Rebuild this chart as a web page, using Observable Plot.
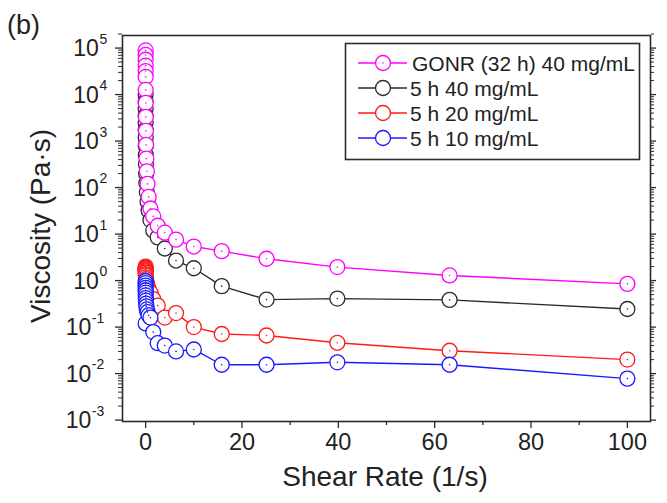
<!DOCTYPE html>
<html>
<head>
<meta charset="utf-8">
<script src="https://cdn.jsdelivr.net/npm/d3@7"></script>
<script src="https://cdn.jsdelivr.net/npm/@observablehq/plot@0.6"></script>
<style>
  body { margin: 0; background: #fff; }
  #figure { position: relative; width: 667px; height: 503px; font-family: Arial, "Liberation Sans", sans-serif; color: #222; }
  #figure svg { position: absolute; left: 0; top: 0; }
  .txt { position: absolute; white-space: nowrap; line-height: 1; }
</style>
</head>
<body>
<div id="figure"></div>
<script>
// Shear rate sweep (1/s)
const shearRate = [0.001, 0.00158, 0.00251, 0.00398, 0.00631, 0.01, 0.0158, 0.0251, 0.0398, 0.0631,
  0.1, 0.158, 0.251, 0.398, 0.631, 1, 1.58, 2.51, 3.98, 6.31, 10, 15.8, 25.1, 39.8, 63.1, 100];

// Viscosity (Pa·s) for each sample
const gonr32h40 = [89000, 71000, 56000, 42000, 32000, 24000, 12600, 6600, 3300, 1660,
  830, 420, 224, 120, 63, 35.5, 24, 15.1, 10.7, 7.6, 5.4, 4.3, 2.95, 1.95, 1.29, 0.85];
const h5c40 = [10000, 7100, 5000, 3550, 2500, 1780, 1200, 790, 500, 316,
  200, 126, 79, 50, 31.6, 20, 12, 8.5, 4.9, 2.7, 1.84, 0.76, 0.39, 0.41, 0.385, 0.245];
const h5c20 = [2.0, 1.9, 1.82, 1.74, 1.66, 1.58, 1.48, 1.38, 1.29, 1.17,
  1.07, 0.95, 0.85, 0.76, 0.66, 0.55, 0.40, 0.29, 0.16, 0.20, 0.10, 0.071, 0.066, 0.046, 0.031, 0.020];
const h5c10 = [0.12, 0.98, 0.88, 0.78, 0.70, 0.62, 0.55, 0.48, 0.42, 0.37,
  0.32, 0.28, 0.24, 0.21, 0.18, 0.16, 0.078, 0.045, 0.040, 0.030, 0.033, 0.0155, 0.0155, 0.0175, 0.0155, 0.0078];

const seriesNames = ["GONR (32 h) 40 mg/mL", "5 h 40 mg/mL", "5 h 20 mg/mL", "5 h 10 mg/mL"];
const seriesColors = ["#ff00ff", "#2b2b2b", "#ff1a1a", "#1a1aff"];
const seriesValues = [gonr32h40, h5c40, h5c20, h5c10];
const drawOrder = [1, 0, 2, 3];

const xTicks = [0, 20, 40, 60, 80, 100];
const xMinorTicks = [10, 30, 50, 70, 90];
const yExponents = [-3, -2, -1, 0, 1, 2, 3, 4, 5];

const W = 667, H = 503;
const M = {left: 122, right: 17, top: 35, bottom: 82};
const axisColor = "#2b2b2b";

const rows = (i) => shearRate.map((x, k) => ({x, y: seriesValues[i][k]}));

const yMajor = yExponents.map(e => Math.pow(10, e));
const yMinor = yExponents.slice(0, -1).flatMap(e => [2, 3, 4, 5, 6, 7, 8, 9].map(m => m * Math.pow(10, e)))
  .concat([2 * Math.pow(10, 5)]);

const seriesMarks = drawOrder.flatMap(i => {
  const data = rows(i);
  return [
    Plot.line(data, {x: "x", y: "y", stroke: seriesColors[i], strokeWidth: 1.4}),
    Plot.dot(data, {x: "x", y: "y", r: 7.5, stroke: seriesColors[i], strokeWidth: 1.3, fill: "white"}),
    Plot.dot(data, {x: "x", y: "y", r: 0.8, fill: seriesColors[i], stroke: "none"})
  ];
});

// y tick labels drawn as "10" with a raised exponent
const yLabelMarks = yExponents.flatMap(e => {
  const expText = String(e);
  const expWidth = expText.length * 7.6;
  const baseEnd = 106 - expWidth;
  return [
    Plot.text([Math.pow(10, e)], {y: d => d, frameAnchor: "left", dx: baseEnd - M.left, dy: 1,
      text: () => "10", textAnchor: "end", fontSize: 23, fill: "#222"}),
    Plot.text([Math.pow(10, e)], {y: d => d, frameAnchor: "left", dx: baseEnd - M.left + 0.5, dy: -9,
      text: () => expText, textAnchor: "start", fontSize: 14, fill: "#222"})
  ];
});

const chart = Plot.plot({
  width: W,
  height: H,
  marginLeft: M.left,
  marginRight: M.right,
  marginTop: M.top,
  marginBottom: M.bottom,
  style: {fontFamily: "Arial, 'Liberation Sans', sans-serif", background: "white", overflow: "visible"},
  x: {domain: [-4.8, 104.8]},
  y: {type: "log", domain: [Math.pow(10, -3.03), Math.pow(10, 5.27)]},
  marks: [
    Plot.axisX(xTicks, {anchor: "bottom", tickSize: 7, tickPadding: 5, tickFormat: d => String(d),
      fontSize: 23.5, stroke: axisColor, strokeWidth: 1.3, fill: "#222", label: null}),
    Plot.axisX(xMinorTicks, {anchor: "bottom", tickSize: 4, tickFormat: () => "", stroke: axisColor, strokeWidth: 1.3, label: null}),
    Plot.axisY(yMajor, {anchor: "left", tickSize: 7, tickFormat: () => "", stroke: axisColor, strokeWidth: 1.3, label: null}),
    Plot.axisY(yMinor, {anchor: "left", tickSize: 4, tickFormat: () => "", stroke: axisColor, strokeWidth: 1, label: null}),
    Plot.axisY(yMajor, {anchor: "right", tickSize: 5, tickFormat: () => "", stroke: axisColor, strokeWidth: 1.3, label: null}),
    Plot.axisY(yMinor, {anchor: "right", tickSize: 3, tickFormat: () => "", stroke: axisColor, strokeWidth: 1, label: null}),
    ...yLabelMarks,
    ...seriesMarks,
    Plot.frame({stroke: axisColor, strokeWidth: 1.6})
  ]
});

const fig = document.getElementById("figure");
fig.appendChild(chart);

// Legend box
const leg = d3.select(fig).append("svg")
  .attr("width", W).attr("height", H)
  .style("pointer-events", "none");
leg.append("rect")
  .attr("x", 345.5).attr("y", 43.5).attr("width", 294).attr("height", 116)
  .attr("fill", "white").attr("stroke", axisColor).attr("stroke-width", 1.6);
seriesNames.forEach((name, i) => {
  const cy = 63 + i * 25;
  const g = leg.append("g");
  g.append("line").attr("x1", 358).attr("x2", 407).attr("y1", cy).attr("y2", cy)
    .attr("stroke", seriesColors[i]).attr("stroke-width", 1.4);
  g.append("circle").attr("cx", 383).attr("cy", cy).attr("r", 7.5)
    .attr("fill", "white").attr("stroke", seriesColors[i]).attr("stroke-width", 1.3);
  if (i === 0) g.append("circle").attr("cx", 383).attr("cy", cy).attr("r", 0.8).attr("fill", seriesColors[i]);
  g.append("text").attr("x", i === 0 ? 412 : 410).attr("y", cy + 7.5)
    .attr("font-family", "Arial, 'Liberation Sans', sans-serif").attr("font-size", 21)
    .attr("fill", "#222").text(name);
});

// Panel letter and axis titles
function addText(str, css) {
  const d = document.createElement("div");
  d.className = "txt";
  d.textContent = str;
  Object.assign(d.style, css);
  fig.appendChild(d);
}
addText("(b)", {left: "7px", top: "12px", fontSize: "27px"});
addText("Shear Rate (1/s)", {left: "385px", top: "463px", fontSize: "28px", transform: "translateX(-50%)"});
addText("Viscosity (Pa\u00b7s)", {left: "41px", top: "226px", fontSize: "28px",
  transform: "translate(-50%, -50%) rotate(-90deg)"});
</script>
</body>
</html>
